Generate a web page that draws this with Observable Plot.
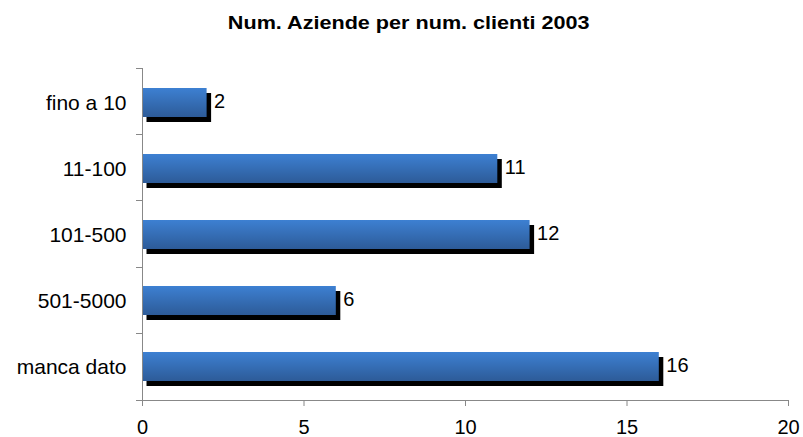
<!DOCTYPE html>
<html>
<head>
<meta charset="utf-8">
<script src="https://cdn.jsdelivr.net/npm/d3@7"></script>
<script src="https://cdn.jsdelivr.net/npm/@observablehq/plot@0.6"></script>
<style>
  html, body { margin: 0; padding: 0; background: #fff; }
  #wrap { width: 803px; font-family: "Liberation Sans", Arial, sans-serif; }
  #title { box-sizing: border-box; height: 40px; padding-top: 14px; padding-left: 14px;
           text-align: center; font-weight: bold; font-size: 18px; line-height: 18px; color: #000; }
  #title span { display: inline-block; transform: scaleX(1.2); transform-origin: center; }
</style>
</head>
<body>
<div id="wrap">
  <div id="title"><span>Num. Aziende per num. clienti 2003</span></div>
  <div id="chart"></div>
</div>
<script>
const categories = ["fino a 10", "11-100", "101-500", "501-5000", "manca dato"];
const values = [2, 11, 12, 6, 16];
const xTicks = [0, 5, 10, 15, 20];
const xDomain = [0, 20];

const data = categories.map((c, i) => ({cat: c, value: values[i]}));

const svgNS = "http://www.w3.org/2000/svg";
function gradientDefs() {
  const defs = document.createElementNS(svgNS, "defs");
  const g = document.createElementNS(svgNS, "linearGradient");
  g.setAttribute("id", "barGrad");
  g.setAttribute("x1", "0"); g.setAttribute("y1", "0");
  g.setAttribute("x2", "0"); g.setAttribute("y2", "1");
  [["0%", "#3d80d2"], ["100%", "#2d5b98"]].forEach(([o, c]) => {
    const s = document.createElementNS(svgNS, "stop");
    s.setAttribute("offset", o); s.setAttribute("stop-color", c);
    g.appendChild(s);
  });
  defs.appendChild(g);
  return defs;
}

function axisLines(index, scales, values, dims) {
  const {width, height, marginTop, marginBottom} = dims;
  const g = document.createElementNS(svgNS, "g");
  g.setAttribute("stroke", "#888");
  g.setAttribute("shape-rendering", "crispEdges");
  const x0 = scales.x(0), x1 = scales.x(xDomain[1]);
  const top = marginTop, bottom = height - marginBottom;
  const line = (a, b, c, d) => {
    const l = document.createElementNS(svgNS, "line");
    l.setAttribute("x1", a); l.setAttribute("y1", b);
    l.setAttribute("x2", c); l.setAttribute("y2", d);
    g.appendChild(l);
  };
  line(x0, top, x0, bottom);
  line(x0, bottom, x1, bottom);
  const step = (bottom - top) / categories.length;
  for (let i = 0; i <= categories.length; i++) {
    const yy = top + i * step;
    line(x0 - 6, yy, x0, yy);
  }
  return g;
}

const plot = Plot.plot({
  width: 803,
  height: 397,
  marginTop: 28,
  marginBottom: 37,
  marginLeft: 142,
  marginRight: 15,
  style: {fontFamily: "Liberation Sans, Arial, sans-serif", fontSize: "20px", color: "#000", background: "#fff", overflow: "visible"},
  x: {domain: xDomain, axis: null, label: null},
  y: {domain: categories, paddingInner: 0.563, paddingOuter: 0.2815, axis: null, label: null},
  marks: [
    gradientDefs,
    Plot.barX(data, {x: "value", y: "cat", fill: "#000", dx: 4.5, dy: 5}),
    Plot.barX(data, {x: "value", y: "cat", fill: "url(#barGrad)"}),
    Plot.axisX({ticks: xTicks, tickSize: 6, tickPadding: 13, stroke: "#888", fill: "#000", fontSize: 20, label: null, tickFormat: d => String(d)}),
    Plot.axisY({tickSize: 0, tickPadding: 16, fill: "#000", fontSize: 21, label: null}),
    axisLines,
    Plot.text(data, {x: "value", y: "cat", text: d => String(d.value), dx: 7, dy: -1, textAnchor: "start", fontSize: 20, fill: "#000"})
  ]
});
document.getElementById("chart").appendChild(plot);
</script>
</body>
</html>
